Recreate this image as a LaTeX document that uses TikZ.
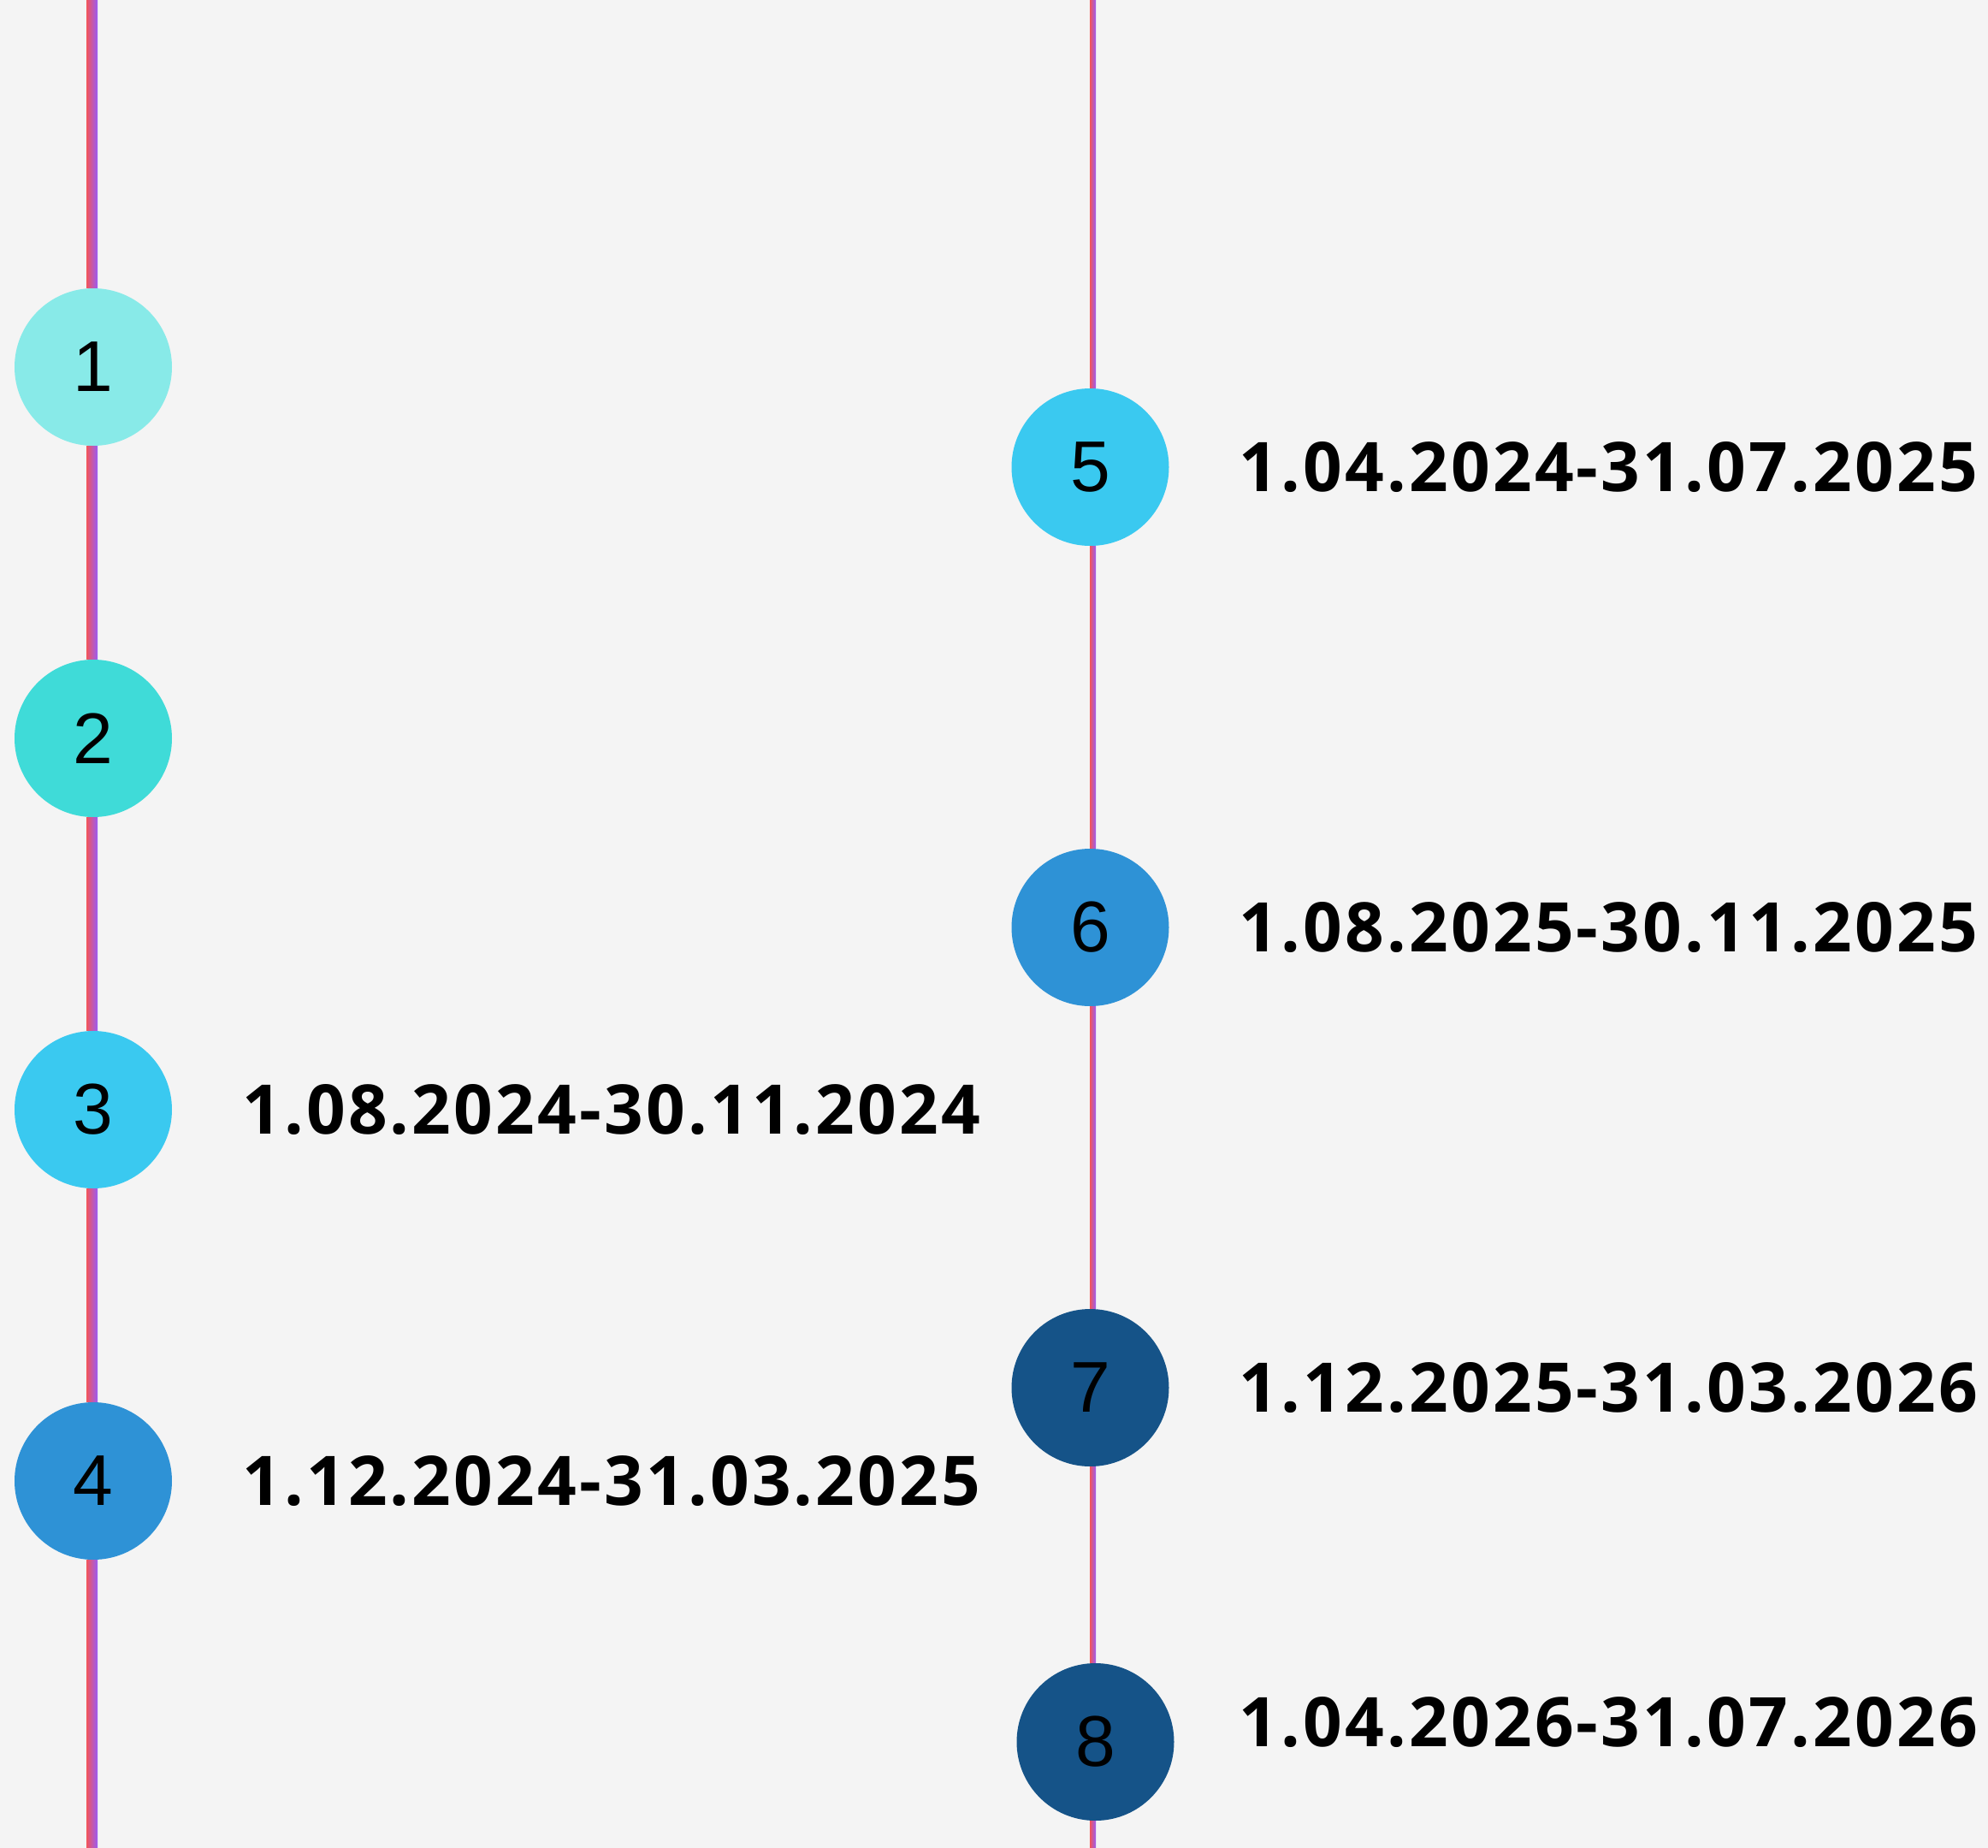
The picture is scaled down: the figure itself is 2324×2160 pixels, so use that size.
\documentclass[tikz,border=0pt]{standalone}
\usepackage{fontspec}
\setmainfont{Liberation Sans}
\newfontfamily\datefont[LetterSpace=4]{Open Sans}
\usetikzlibrary{positioning, calc}

\definecolor{bggray}{HTML}{F4F4F4}
\definecolor{linered}{HTML}{F2555A}
\definecolor{linepurple}{HTML}{9A5CF4}
\definecolor{turqpale}{HTML}{88EAE8}
\definecolor{turq}{HTML}{3FDBD8}
\definecolor{skyblue}{HTML}{3AC9F0}
\definecolor{midblue}{HTML}{2E92D6}
\definecolor{darkblue}{HTML}{155388}

\tikzset{
    stage/.style={circle, inner sep=0pt, minimum size=184pt, font=\fontsize{84}{90}\selectfont},
    period/.style={inner sep=0pt, font=\datefont\bfseries\fontsize{80}{96}\selectfont},
    timeline/.style={left color=linered, right color=linepurple},
}

\begin{document}
\begin{tikzpicture}[x=1pt, y=-1pt]
    \fill[bggray] (0,0) rectangle (2324,2160);
    \coordinate (ltop) at (107.5,0);
    \coordinate (lbot) at (107.5,2160);
    \coordinate (rtop) at (1277.5,0);
    \coordinate (rbot) at (1277.5,2160);

    \node (s1) [stage, fill=turqpale] at (109,429) {1};
    \node (s2) [stage, fill=turq] at (109,863) {2};
    \node (s3) [stage, fill=skyblue] at (109,1297) {3};
    \node (s4) [stage, fill=midblue] at (109,1731) {4};
    \node (s5) [stage, fill=skyblue] at (1274.5,546) {5};
    \node (s6) [stage, fill=midblue] at (1274.5,1084) {6};
    \node (s7) [stage, fill=darkblue] at (1274.5,1622) {7};
    \node (s8) [stage, fill=darkblue] at (1280.5,2036) {8};

    \node (d3) [period, right=82pt of s3] {1.08.2024-30.11.2024};
    \node (d4) [period, right=82pt of s4] {1.12.2024-31.03.2025};
    \node (d5) [period, right=82pt of s5] {1.04.2024-31.07.2025};
    \node (d6) [period, right=82pt of s6] {1.08.2025-30.11.2025};
    \node (d7) [period, right=82pt of s7] {1.12.2025-31.03.2026};
    \node (d8) [period, right=76pt of s8, yshift=23pt] {1.04.2026-31.07.2026};

    % timelines
    \foreach \a/\b in {ltop/s1.north, s1.south/s2.north, s2.south/s3.north, s3.south/s4.north, s4.south/lbot}
        \shade[timeline] ($(\a -| ltop)+(-6.5,0)$) rectangle ($(\b -| ltop)+(6.5,0)$);
    \foreach \a/\b in {rtop/s5.north, s5.south/s6.north, s6.south/s7.north, s7.south/s8.north, s8.south/rbot}
        \shade[timeline] ($(\a -| rtop)+(-3.5,0)$) rectangle ($(\b -| rtop)+(3.5,0)$);
\end{tikzpicture}
\end{document}
